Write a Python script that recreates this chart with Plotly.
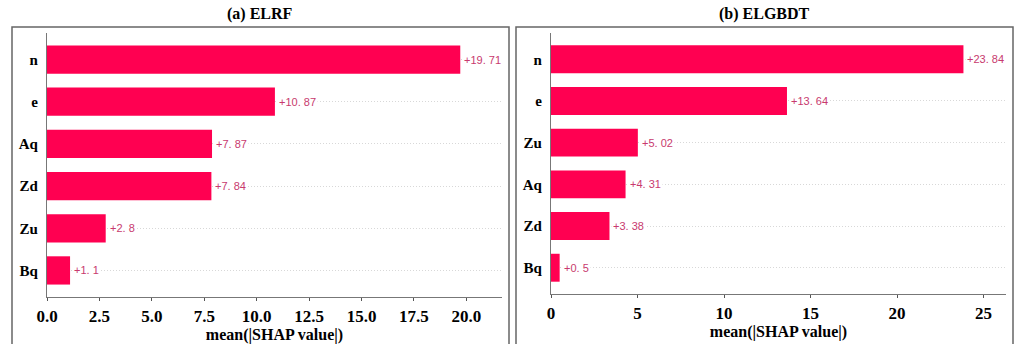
import plotly.graph_objects as go

# Mean |SHAP| importance per feature, listed from most to least important
rf_features = ["n", "e", "Aq", "Zd", "Zu", "Bq"]
rf_values = [19.71, 10.87, 7.87, 7.84, 2.8, 1.1]

gbdt_features = ["n", "e", "Zu", "Aq", "Zd", "Bq"]
gbdt_values = [23.84, 13.64, 5.02, 4.31, 3.38, 0.5]

rf_ticks = [0.0, 2.5, 5.0, 7.5, 10.0, 12.5, 15.0, 17.5, 20.0]
rf_ticktext = ["0.0", "2.5", "5.0", "7.5", "10.0", "12.5", "15.0", "17.5", "20.0"]
gbdt_ticks = [0, 5, 10, 15, 20, 25]
gbdt_ticktext = ["0", "5", "10", "15", "20", "25"]

panel_titles = ["(a) ELRF", "(b) ELGBDT"]

W, H = 1014, 344
BAR = "#ff0051"
LABEL = "#c83a6e"
SERIF = "Liberation Serif"
SANS = "Liberation Sans"


def fmt(v):
    s = f"{v:g}"
    return "+" + s.replace(".", ". ")


def px_x(p):
    return p / W


def px_y(p):
    return (H - p) / H


fig = go.Figure()

panels = [
    (rf_features, rf_values, rf_ticks, rf_ticktext, [0, 21.7], (47, 502), (33, 297), "x", "y"),
    (gbdt_features, gbdt_values, gbdt_ticks, gbdt_ticktext, [0, 26.3], (551, 1006), (33, 294), "x2", "y2"),
]

for i, (feats, vals, tv, tt, xr, (xl, xrgt), (yt, yb), xa, ya) in enumerate(panels):
    fig.add_trace(go.Bar(
        x=vals, y=feats, orientation="h",
        marker=dict(color=BAR, line=dict(width=0)),
        width=0.67,
        xaxis=xa, yaxis=ya, showlegend=False, hoverinfo="x+y",
    ))
    # value labels sit on a white box so the dotted guide starts after them
    for f, v in zip(feats, vals):
        fig.add_annotation(
            x=v, y=f, xref=xa, yref=ya, text=fmt(v), showarrow=False,
            xanchor="left", yanchor="middle", xshift=2, bgcolor="white",
            borderpad=1, font=dict(family=SANS, size=11, color=LABEL),
        )
    suffix = "" if i == 0 else "2"
    fig.update_layout(**{
        "xaxis" + suffix: dict(
            domain=[px_x(xl), px_x(xrgt)], range=xr, anchor=ya, automargin=False,
            tickvals=tv, ticktext=[f"<b>{t}</b>" for t in tt],
            ticks="outside", ticklen=3, tickwidth=1,
            tickcolor="#555", showline=True, linecolor="#777", linewidth=1.3,
            showgrid=False, zeroline=False,
            tickfont=dict(family=SERIF, size=17, color="black"),
            title=dict(text="<b>mean(|SHAP value|)</b>", standoff=2,
                       font=dict(family=SERIF, size=16, color="black")),
        ),
        "yaxis" + suffix: dict(
            domain=[px_y(yb), px_y(yt)], anchor=xa, automargin=False,
            categoryorder="array", categoryarray=feats[::-1],
            tickvals=feats, ticktext=[f"<b>{f}</b>" for f in feats],
            range=[-0.63, 5.63], showline=True, linecolor="#777", linewidth=1.3,
            ticks="", showgrid=True, gridcolor="#d8d8d8", griddash="1px,2px",
            gridwidth=1, zeroline=False, ticklabelstandoff=5,
            tickfont=dict(family=SERIF, size=15, color="black"),
        ),
    })

# panel frames
for x0, x1 in [(12, 509), (516, 1013)]:
    fig.add_shape(type="rect", xref="paper", yref="paper",
                  x0=px_x(x0), x1=px_x(x1), y0=px_y(350), y1=px_y(27),
                  line=dict(color="#666", width=1.5), fillcolor="rgba(0,0,0,0)")

# panel titles
for title, cx in zip(panel_titles, [260, 764]):
    fig.add_annotation(text=f"<b>{title}</b>", xref="paper", yref="paper",
                       x=px_x(cx), y=px_y(14), showarrow=False,
                       xanchor="center", yanchor="middle",
                       font=dict(family=SERIF, size=16, color="black"))

fig.update_layout(
    width=W, height=H, margin=dict(l=0, r=0, t=0, b=0),
    paper_bgcolor="white", plot_bgcolor="white",
)

fig.write_html("out.html")
